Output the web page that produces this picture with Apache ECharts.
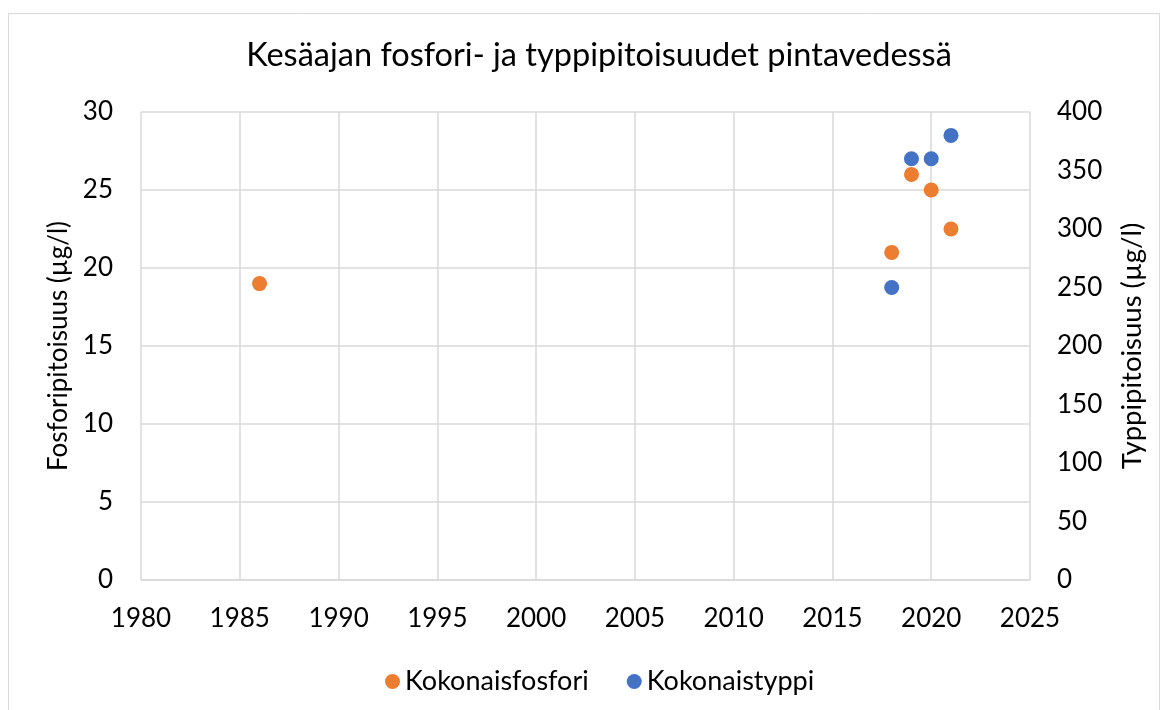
<!DOCTYPE html>
<html>
<head>
<meta charset="utf-8">
<script src="https://cdn.jsdelivr.net/npm/echarts@6/dist/echarts.min.js"></script>
<style>
html,body{margin:0;padding:0;background:#fff;}
#chart{width:1166px;height:710px;}
</style>
</head>
<body>
<div id="chart"></div>
<script>
const titleText = 'Kesäajan fosfori- ja typpipitoisuudet pintavedessä';
const leftAxisName = 'Fosforipitoisuus (µg/l)';
const rightAxisName = 'Typpipitoisuus (µg/l)';
const phosName = 'Kokonaisfosfori';
const nitroName = 'Kokonaistyppi';
const phosYears = [1986, 2018, 2019, 2020, 2021];
const phosValues = [19, 21, 26, 25, 22.5];
const nitroYears = [2018, 2019, 2020, 2021];
const nitroValues = [250, 360, 360, 380];

const FONT = 'Lato';
const chart = echarts.init(document.getElementById('chart'), null, {renderer: 'canvas'});
const gridColor = '#d9d9d9';
chart.setOption({
  animation: false,
  backgroundColor: '#fff',
  textStyle: {fontFamily: FONT, color: '#000'},
  graphic: [{
    type: 'rect', shape: {x: 8.5, y: 13.5, width: 1151, height: 720},
    style: {fill: 'none', stroke: '#d9d9d9', lineWidth: 1}, silent: true, z: -10
  }],
  title: {
    text: titleText, left: 594, textAlign: 'center', top: 34,
    textStyle: {fontFamily: FONT, fontSize: 32.5, fontWeight: 'normal', color: '#000'}
  },
  legend: {
    top: 663, left: 380, itemGap: 38, icon: 'circle', itemWidth: 15, itemHeight: 15,
    textStyle: {fontFamily: FONT, fontSize: 27, color: '#000'},
    data: [phosName, nitroName]
  },
  grid: {left: 141, right: 136, top: 112, bottom: 130, containLabel: false},
  xAxis: {
    type: 'value', min: 1980, max: 2025, interval: 5,
    axisLine: {show: true, lineStyle: {color: gridColor, width: 1.5}},
    axisTick: {show: false},
    axisLabel: {fontFamily: FONT, fontSize: 26, color: '#000', margin: 26, formatter: v => String(v)},
    splitLine: {show: true, lineStyle: {color: gridColor, width: 1.5}}
  },
  yAxis: [{
    type: 'value', min: 0, max: 30, interval: 5, position: 'left',
    name: leftAxisName, nameLocation: 'middle', nameGap: 67, nameRotate: 90,
    nameTextStyle: {fontFamily: FONT, fontSize: 26, color: '#000'},
    axisLine: {show: false}, axisTick: {show: false},
    axisLabel: {fontFamily: FONT, fontSize: 26, color: '#000', margin: 28},
    splitLine: {show: true, lineStyle: {color: gridColor, width: 1.5}}
  }, {
    type: 'value', min: 0, max: 400, interval: 50, position: 'right',
    name: rightAxisName, nameLocation: 'middle', nameGap: 88, nameRotate: 90,
    nameTextStyle: {fontFamily: FONT, fontSize: 27.5, color: '#000'},
    axisLine: {show: false}, axisTick: {show: false},
    axisLabel: {fontFamily: FONT, fontSize: 26, color: '#000', margin: 27},
    splitLine: {show: false}
  }],
  series: [{
    name: phosName, type: 'scatter', yAxisIndex: 0, symbolSize: 15,
    itemStyle: {color: '#ED7D31', opacity: 1},
    data: phosYears.map((y, i) => [y, phosValues[i]])
  }, {
    name: nitroName, type: 'scatter', yAxisIndex: 1, symbolSize: 15,
    itemStyle: {color: '#4472C4', opacity: 1},
    data: nitroYears.map((y, i) => [y, nitroValues[i]])
  }]
});
</script>
</body>
</html>
